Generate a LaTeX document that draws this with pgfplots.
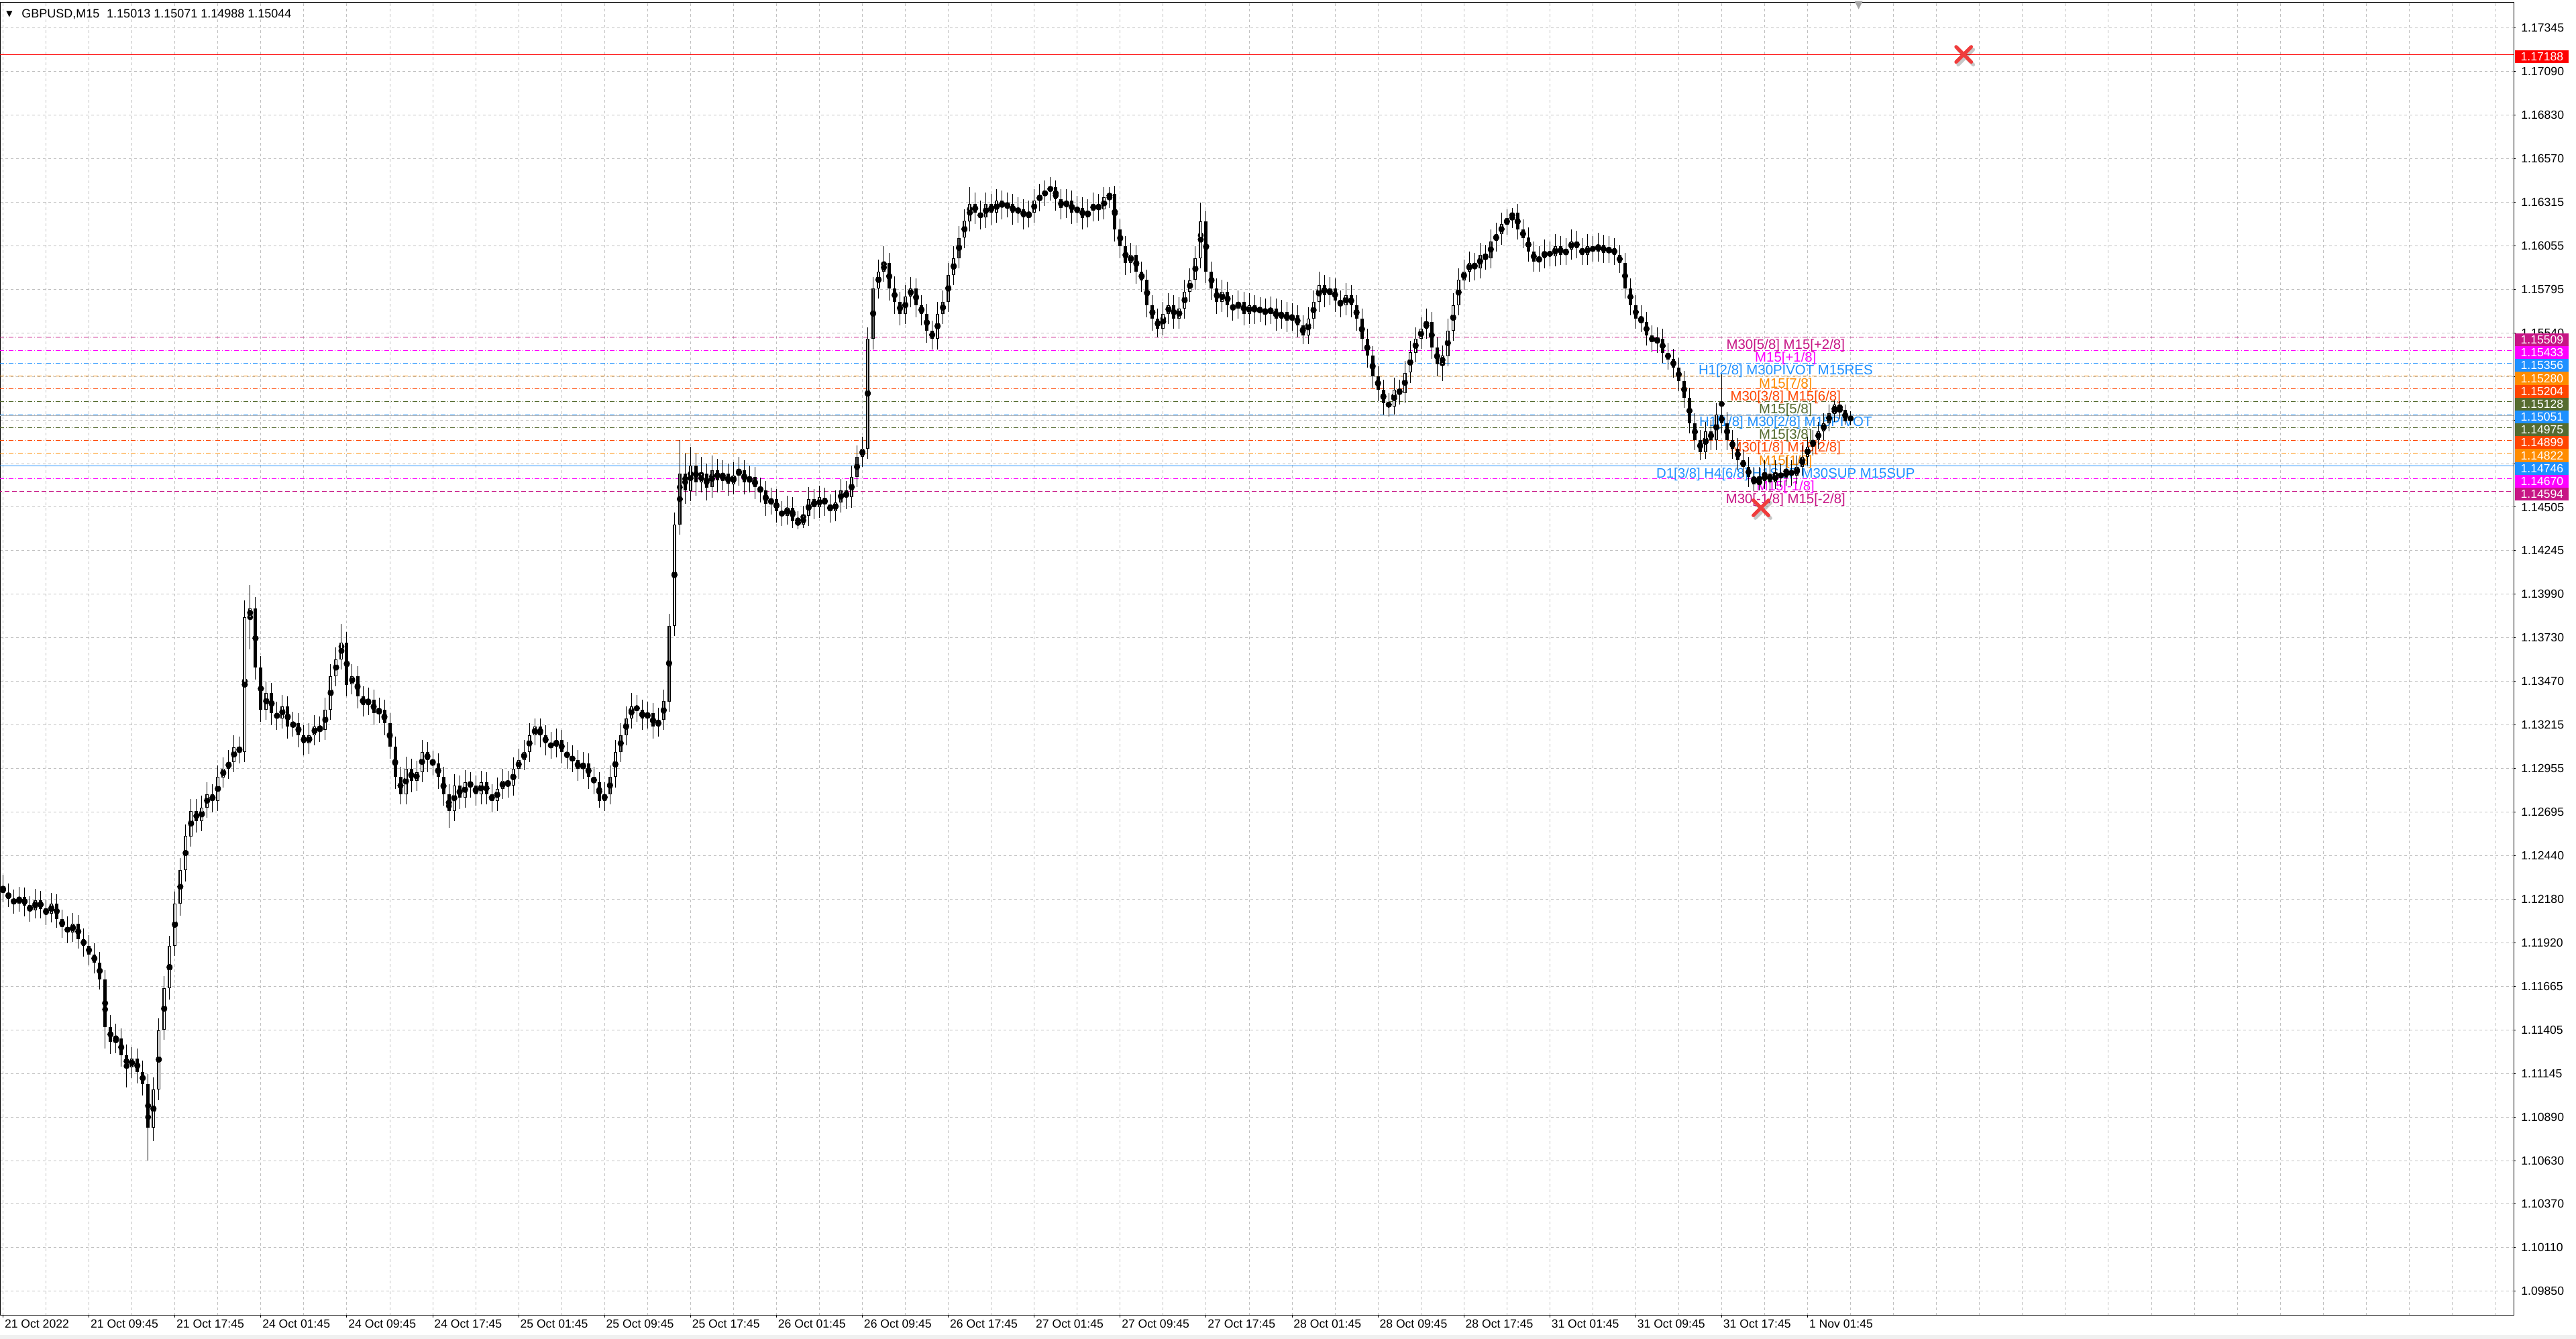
\documentclass[border=0pt]{standalone}
\usepackage{pgfplots}
\pgfplotsset{compat=1.18}
\usepackage{pgfplotstable}
\usepackage{fontspec}
\setmainfont{Liberation Sans}
\newfontfamily\dejavu{DejaVu Sans}
\definecolor{mvr}{RGB}{199,21,133}
\definecolor{mag}{RGB}{255,0,255}
\definecolor{dblue}{RGB}{30,144,255}
\definecolor{dorange}{RGB}{255,140,0}
\definecolor{ored}{RGB}{255,69,0}
\definecolor{olivegr}{RGB}{85,107,47}
\definecolor{gridgray}{RGB}{192,192,192}
\definecolor{xred}{RGB}{240,60,60}
% GBPUSD M15, prices in points (1 point = 0.00001); one row = two M15 bars
\pgfplotstableread{
o h l c
112250 112320 112160 112215
112215 112270 112130 112180
112180 112235 112090 112150
112150 112250 112100 112190
112190 112245 112075 112140
112140 112195 112045 112110
112110 112235 112060 112170
112170 112225 112065 112120
112120 112175 112025 112090
112090 112215 112040 112150
112150 112205 112005 112060
112060 112115 111945 112010
112010 112075 111915 111980
111980 112095 111925 112030
112030 112085 111885 111940
111940 112005 111835 111900
111900 111965 111785 111850
111850 111915 111735 111800
111800 111865 111640 111700
111700 111755 111290 111420
111420 111490 111260 111330
111330 111440 111265 111350
111350 111410 111185 111250
111250 111315 111060 111180
111180 111300 111115 111230
111230 111290 111085 111150
111150 111220 111010 111080
111080 111140 110628 110820
110820 111120 110740 111050
111050 111470 110985 111400
111400 111720 111340 111650
111650 111960 111580 111900
111900 112220 111840 112150
112150 112420 112080 112350
112350 112620 112280 112550
112550 112770 112490 112700
112700 112770 112570 112640
112640 112790 112580 112720
112720 112870 112660 112800
112800 112860 112690 112760
112760 112970 112700 112900
112900 113020 112840 112950
112950 113060 112890 112990
112990 113150 112930 113080
113080 113140 112980 113050
113050 113950 112990 113850
113850 114040 113660 113900
113900 113970 113480 113550
113550 113620 113230 113300
113300 113470 113240 113400
113400 113460 113210 113280
113280 113350 113180 113250
113250 113390 113190 113320
113320 113380 113130 113200
113200 113290 113140 113220
113220 113280 113080 113150
113150 113210 113030 113100
113100 113220 113040 113150
113150 113270 113090 113200
113200 113260 113110 113180
113180 113370 113120 113300
113300 113570 113240 113500
113500 113670 113440 113600
113600 113810 113540 113700
113700 113760 113380 113450
113450 113570 113390 113500
113500 113560 113310 113380
113380 113440 113260 113330
113330 113430 113270 113360
113360 113420 113210 113280
113280 113370 113220 113300
113300 113360 113150 113220
113220 113280 113010 113080
113080 113140 112830 112900
112900 112960 112740 112800
112800 113020 112740 112950
112950 113010 112810 112880
112880 113000 112820 112930
112930 113120 112870 113050
113050 113110 112930 113000
113000 113060 112910 112980
112980 113040 112830 112900
112900 112960 112730 112800
112800 112860 112600 112700
112700 112920 112640 112850
112850 112910 112710 112780
112780 112940 112720 112870
112870 112930 112780 112850
112850 112910 112730 112800
112800 112940 112740 112870
112870 112930 112740 112800
112800 112860 112690 112760
112760 112900 112700 112830
112830 112950 112770 112880
112880 112940 112780 112850
112850 113020 112790 112950
112950 113070 112890 113000
113000 113120 112940 113050
113050 113220 112990 113150
113150 113250 113090 113200
113200 113250 113080 113150
113150 113210 113030 113100
113100 113170 113010 113080
113080 113190 113020 113120
113120 113180 112980 113050
113050 113110 112950 113020
113020 113090 112930 113000
113000 113060 112880 112950
112950 113050 112890 112980
112980 113040 112830 112900
112900 112960 112800 112870
112870 112930 112720 112760
112760 112870 112700 112800
112800 112970 112740 112900
112900 113120 112840 113050
113050 113220 112990 113150
113150 113320 113090 113250
113250 113400 113190 113320
113320 113390 113230 113300
113300 113360 113180 113250
113250 113350 113190 113280
113280 113340 113130 113200
113200 113310 113140 113240
113240 113420 113180 113350
113350 113870 113290 113800
113800 114470 113740 114400
114400 114900 114340 114700
114700 114820 114520 114600
114600 114860 114540 114750
114750 114820 114570 114650
114650 114800 114590 114700
114700 114760 114540 114620
114620 114810 114560 114720
114720 114790 114590 114660
114660 114780 114600 114700
114700 114760 114570 114640
114640 114770 114580 114690
114690 114800 114630 114720
114720 114780 114580 114650
114650 114750 114590 114680
114680 114740 114550 114620
114620 114680 114530 114600
114600 114660 114450 114520
114520 114620 114460 114550
114550 114610 114410 114480
114480 114540 114390 114450
114450 114570 114400 114500
114500 114560 114380 114420
114420 114480 114370 114400
114400 114510 114380 114450
114450 114620 114390 114550
114550 114610 114430 114500
114500 114630 114440 114560
114560 114620 114450 114520
114520 114580 114410 114480
114480 114600 114420 114530
114530 114670 114470 114600
114600 114660 114490 114560
114560 114750 114500 114680
114680 114870 114620 114800
114800 114920 114740 114850
114850 115570 114790 115500
115500 115870 115440 115800
115800 115970 115740 115900
115900 116050 115840 115950
115950 116010 115730 115800
115800 115870 115650 115720
115720 115780 115580 115650
115650 115820 115590 115750
115750 115870 115690 115800
115800 115860 115630 115700
115700 115760 115580 115650
115650 115710 115480 115550
115550 115610 115440 115500
115500 115720 115440 115650
115650 115790 115590 115720
115720 115950 115660 115880
115880 116050 115820 115980
115980 116170 115920 116100
116100 116270 116040 116200
116200 116400 116140 116300
116300 116370 116180 116250
116250 116320 116150 116220
116220 116370 116160 116300
116300 116360 116180 116250
116250 116390 116190 116320
116320 116380 116210 116280
116280 116370 116220 116300
116300 116360 116180 116250
116250 116340 116190 116270
116270 116330 116150 116220
116220 116320 116160 116250
116250 116390 116190 116320
116320 116420 116260 116350
116350 116440 116290 116380
116380 116460 116320 116400
116400 116440 116260 116330
116330 116390 116210 116280
116280 116390 116220 116320
116320 116380 116180 116250
116250 116350 116190 116280
116280 116340 116150 116220
116220 116330 116160 116260
116260 116370 116200 116300
116300 116360 116200 116270
116270 116400 116210 116340
116340 116400 116280 116360
116360 116410 116080 116150
116150 116210 115980 116050
116050 116110 115880 115950
115950 116070 115890 116000
116000 116060 115830 115900
115900 115960 115780 115850
115850 115910 115630 115700
115700 115760 115550 115620
115620 115680 115510 115560
115560 115720 115520 115650
115650 115770 115590 115700
115700 115760 115560 115620
115620 115750 115560 115680
115680 115850 115620 115780
115780 115920 115720 115850
115850 116050 115790 115980
115980 116310 115920 116200
116200 116260 115830 115900
115900 115960 115730 115800
115800 115860 115650 115720
115720 115850 115660 115780
115780 115840 115630 115700
115700 115760 115610 115680
115680 115790 115620 115720
115720 115780 115580 115650
115650 115770 115590 115700
115700 115760 115590 115660
115660 115750 115600 115680
115680 115740 115580 115650
115650 115750 115590 115680
115680 115740 115550 115620
115620 115730 115560 115660
115660 115720 115540 115610
115610 115710 115550 115640
115640 115700 115510 115580
115580 115640 115470 115520
115520 115690 115470 115620
115620 115790 115560 115720
115720 115900 115660 115820
115820 115880 115690 115760
115760 115870 115700 115800
115800 115860 115660 115730
115730 115790 115630 115700
115700 115830 115640 115760
115760 115820 115630 115700
115700 115760 115550 115620
115620 115680 115430 115500
115500 115560 115330 115400
115400 115460 115210 115280
115280 115340 115130 115200
115200 115260 115050 115120
115120 115180 115040 115100
115100 115270 115050 115200
115200 115260 115110 115180
115180 115370 115120 115300
115300 115490 115240 115420
115420 115570 115360 115500
115500 115630 115440 115560
115560 115680 115500 115600
115600 115660 115380 115450
115450 115510 115280 115350
115350 115460 115250 115400
115400 115620 115340 115550
115550 115770 115490 115700
115700 115920 115640 115850
115850 115970 115790 115900
115900 116020 115840 115950
115950 116010 115850 115920
115920 116070 115860 116000
116000 116060 115910 115980
115980 116150 115920 116080
116080 116190 116020 116120
116120 116250 116060 116180
116180 116270 116120 116220
116220 116280 116160 116250
116250 116300 116090 116150
116150 116210 116040 116100
116100 116160 115960 116020
116020 116080 115900 115960
115960 116050 115900 115980
115980 116090 115920 116020
116020 116080 115930 115990
115990 116120 115930 116050
116050 116110 115940 116000
116000 116100 115940 116030
116030 116150 115970 116080
116080 116140 115980 116040
116040 116100 115940 116000
116000 116120 115940 116050
116050 116110 115960 116020
116020 116130 115960 116060
116060 116120 115950 116010
116010 116110 115950 116040
116040 116100 115940 116000
116000 116060 115890 115950
115950 116010 115740 115800
115800 115860 115640 115700
115700 115760 115560 115620
115620 115700 115540 115600
115600 115660 115460 115520
115520 115580 115420 115480
115480 115570 115420 115500
115500 115560 115360 115420
115420 115480 115320 115380
115380 115440 115270 115330
115330 115390 115190 115250
115250 115310 115090 115150
115150 115210 114940 115000
115000 115060 114840 114900
114900 114960 114781 114830
114830 115010 114790 114950
114950 115020 114840 114900
114900 115120 114840 115050
115050 115290 114940 115000
115000 115070 114840 114900
114900 114960 114790 114850
114850 114910 114720 114780
114780 114840 114680 114740
114740 114800 114620 114680
114680 114740 114598 114640
114640 114740 114600 114660
114660 114780 114610 114700
114700 114760 114600 114650
114650 114780 114610 114700
114700 114760 114620 114680
114680 114800 114630 114720
114720 114780 114630 114690
114690 114810 114640 114740
114740 114870 114690 114800
114800 114920 114750 114860
114860 114960 114810 114900
114900 115010 114850 114950
114950 115060 114900 115000
115000 115110 114950 115060
115060 115135 115010 115110
115110 115130 115030 115080
115080 115110 114990 115013
115013 115071 114988 115044
}\candles

\begin{document}
\begin{tikzpicture}
\fill[gray!12] (0pt,-17.5pt) rectangle (1920pt,-14.5pt);
\begin{axis}[
  set layers,
  scale only axis, width=1873.5pt, height=978.75pt,
  xmin=-1.15, xmax=934.9, ymin=109706, ymax=117497,
  clip mode=individual,
  axis line style={black, line width=0.5pt},
  scaled x ticks=false, scaled y ticks=false,
  xtick={0,32,...,672},
  xticklabels={21 Oct 2022,21 Oct 09:45,21 Oct 17:45,24 Oct 01:45,24 Oct 09:45,24 Oct 17:45,25 Oct 01:45,25 Oct 09:45,25 Oct 17:45,26 Oct 01:45,26 Oct 09:45,26 Oct 17:45,27 Oct 01:45,27 Oct 09:45,27 Oct 17:45,28 Oct 01:45,28 Oct 09:45,28 Oct 17:45,31 Oct 01:45,31 Oct 09:45,31 Oct 17:45,1 Nov 01:45},
  minor xtick={16,32,...,928},
  ytick={117345,117086.55,116828.10,116569.66,116311.21,116052.76,115794.31,115535.86,115277.42,115018.97,114760.52,114502.07,114243.62,113985.18,113726.73,113468.28,113209.83,112951.38,112692.94,112434.49,112176.04,111917.59,111659.14,111400.70,111142.25,110883.80,110625.35,110366.90,110108.46,109850.01},
  yticklabels={1.17345,1.17090,1.16830,1.16570,1.16315,1.16055,1.15795,1.15540,1.15280,1.15025,1.14765,1.14505,1.14245,1.13990,1.13730,1.13470,1.13215,1.12955,1.12695,1.12440,1.12180,1.11920,1.11665,1.11405,1.11145,1.10890,1.10630,1.10370,1.10110,1.09850},
  xtick pos=left, ytick pos=right, yticklabel pos=right,
  tick align=outside, major tick length=1.5pt, minor tick length=0pt,
  tick style={black, line width=0.5pt},
  grid=both,
  major grid style={gridgray, line width=0.5pt, dash pattern=on 2pt off 2pt},
  minor grid style={gridgray, line width=0.5pt, dash pattern=on 2pt off 2pt},
  ticklabel style={font=\fontsize{8.8}{10}\selectfont, inner sep=0pt},
  xticklabel style={anchor=north west, xshift=1pt, yshift=-1.5pt},
  yticklabel style={anchor=west, xshift=4pt},
]
\begin{pgfonlayer}{axis background}
\fill[white] ([yshift=-17.5pt]rel axis cs:0,0) rectangle ([xshift=46.5pt,yshift=1.75pt]rel axis cs:1,1);
\end{pgfonlayer}
% title
\node[anchor=base west, inner sep=0pt, font=\dejavu\fontsize{6}{7}\selectfont, xshift=4.5pt, yshift=-10.5pt] at (axis description cs:0,1) {▼};
\node[anchor=base west, inner sep=0pt, font=\fontsize{9}{10}\selectfont, xshift=16pt, yshift=-11.5pt] at (axis description cs:0,1) {GBPUSD,M15\hspace{0.6em}1.15013 1.15071 1.14988 1.15044};
\node[gray!70, anchor=north, inner sep=0pt, font=\dejavu\fontsize{8}{8}\selectfont, yshift=1pt] at (axis cs:691,117497) {▼};

% level lines
\addplot[red, line width=0.5pt] coordinates {(-5,117188) (940,117188)};
\addplot[mvr, line width=0.5pt, dash pattern=on 3.5pt off 1.5pt on 0.5pt off 1.5pt] coordinates {(-5,115509) (940,115509)};
\addplot[mag, line width=0.5pt, dash pattern=on 3.5pt off 1.5pt on 0.5pt off 1.5pt] coordinates {(-5,115433) (940,115433)};
\addplot[dblue, line width=0.5pt, dash pattern=on 3.5pt off 1.5pt on 0.5pt off 1.5pt] coordinates {(-5,115356) (940,115356)};
\addplot[dorange, line width=0.5pt, dash pattern=on 3.5pt off 1.5pt on 0.5pt off 1.5pt] coordinates {(-5,115280) (940,115280)};
\addplot[ored, line width=0.5pt, dash pattern=on 3.5pt off 1.5pt on 0.5pt off 1.5pt] coordinates {(-5,115204) (940,115204)};
\addplot[olivegr, line width=0.5pt, dash pattern=on 3.5pt off 1.5pt on 0.5pt off 1.5pt] coordinates {(-5,115128) (940,115128)};
\addplot[gray!55, line width=0.5pt] coordinates {(-5,115044) (940,115044)};
\addplot[dblue, line width=0.5pt, dash pattern=on 3.5pt off 1.5pt on 0.5pt off 1.5pt] coordinates {(-5,115051) (940,115051)};
\addplot[olivegr, line width=0.5pt, dash pattern=on 3.5pt off 1.5pt on 0.5pt off 1.5pt] coordinates {(-5,114975) (940,114975)};
\addplot[ored, line width=0.5pt, dash pattern=on 3.5pt off 1.5pt on 0.5pt off 1.5pt] coordinates {(-5,114899) (940,114899)};
\addplot[dorange, line width=0.5pt, dash pattern=on 3.5pt off 1.5pt on 0.5pt off 1.5pt] coordinates {(-5,114822) (940,114822)};
\addplot[dblue, line width=0.5pt] coordinates {(-5,114746) (940,114746)};
\addplot[mag, line width=0.5pt, dash pattern=on 3.5pt off 1.5pt on 0.5pt off 1.5pt] coordinates {(-5,114670) (940,114670)};
\addplot[mvr, line width=0.5pt, dash pattern=on 3.5pt off 2pt] coordinates {(-5,114594) (940,114594)};

% level texts
\tikzset{lvl/.style={anchor=base, inner sep=0pt, font=\fontsize{10.2}{12}\selectfont}}
\node[lvl, mvr] at (axis cs:663.8,115439) {M30[5/8] M15[+2/8]};
\node[lvl, mag] at (axis cs:663.8,115363) {M15[+1/8]};
\node[lvl, dblue] at (axis cs:663.8,115286) {H1[2/8] M30PIVOT M15RES};
\node[lvl, dorange] at (axis cs:663.8,115210) {M15[7/8]};
\node[lvl, ored] at (axis cs:663.8,115134) {M30[3/8] M15[6/8]};
\node[lvl, olivegr] at (axis cs:663.8,115058) {M15[5/8]};
\node[lvl, dblue] at (axis cs:663.8,114981) {H1[1/8] M30[2/8] M15PIVOT};
\node[lvl, olivegr] at (axis cs:663.8,114905) {M15[3/8]};
\node[lvl, ored] at (axis cs:663.8,114829) {M30[1/8] M15[2/8]};
\node[lvl, dorange] at (axis cs:663.8,114752) {M15[1/8]};
\node[lvl, dblue] at (axis cs:663.8,114676) {D1[3/8] H4[6/8] H1SUP M30SUP M15SUP};
\node[lvl, mag] at (axis cs:663.8,114600) {M15[-1/8]};
\node[lvl, mvr] at (axis cs:663.8,114524) {M30[-1/8] M15[-2/8]};

% candles: wicks, bodies, hollow up-bodies
\addplot[only marks, mark=none, forget plot,
  error bars/.cd, y dir=both, y explicit, error mark=none,
  error bar style={draw=black, line width=0.5pt}]
  table[x expr=2*\coordindex, y expr={(\thisrow{h}+\thisrow{l})/2}, y error expr={(\thisrow{h}-\thisrow{l})/2}] {\candles};
\addplot[only marks, mark=none, forget plot,
  error bars/.cd, y dir=both, y explicit, error mark=none,
  error bar style={draw=black, line width=2.5pt}]
  table[x expr=2*\coordindex, y expr={(\thisrow{o}+\thisrow{c})/2}, y error expr={max(abs(\thisrow{c}-\thisrow{o})/2,2)}] {\candles};
\addplot[only marks, mark=none, forget plot,
  error bars/.cd, y dir=both, y explicit, error mark=none,
  error bar style={draw=white, line width=0.75pt}]
  table[x expr=2*\coordindex, y expr={(\thisrow{o}+\thisrow{c})/2}, y error expr={max((\thisrow{c}-\thisrow{o})/2-4,0)}] {\candles};

% red crosses
\addplot[only marks, mark=x, mark size=8pt, mark options={draw=black, opacity=0.22, line width=2.6pt, line cap=round, xshift=1.5pt, yshift=-2pt}] coordinates {(730.1,117188) (654.6,114498)};
\addplot[only marks, mark=x, mark size=8pt, mark options={draw=xred, line width=2.6pt, line cap=round}] coordinates {(730.1,117188) (654.6,114498)};

% price labels on the right
\tikzset{plab/.style={anchor=west, text=white, minimum width=40pt, minimum height=9.6pt, inner sep=0pt, xshift=1pt, yshift=-1.75pt, font=\fontsize{8.8}{10}\selectfont}}
\node[plab, fill=red] at (axis cs:934.9,117188) {1.17188};
\node[plab, fill=mvr] at (axis cs:934.9,115509) {1.15509};
\node[plab, fill=mag] at (axis cs:934.9,115433) {1.15433};
\node[plab, fill=dblue] at (axis cs:934.9,115356) {1.15356};
\node[plab, fill=dorange] at (axis cs:934.9,115280) {1.15280};
\node[plab, fill=ored] at (axis cs:934.9,115204) {1.15204};
\node[plab, fill=olivegr] at (axis cs:934.9,115128) {1.15128};
\node[plab, fill=dblue] at (axis cs:934.9,115051) {1.15051};
\node[plab, fill=olivegr] at (axis cs:934.9,114975) {1.14975};
\node[plab, fill=ored] at (axis cs:934.9,114899) {1.14899};
\node[plab, fill=dorange] at (axis cs:934.9,114822) {1.14822};
\node[plab, fill=dblue] at (axis cs:934.9,114746) {1.14746};
\node[plab, fill=mag] at (axis cs:934.9,114670) {1.14670};
\node[plab, fill=mvr] at (axis cs:934.9,114594) {1.14594};
\end{axis}
\pgfresetboundingbox
\useasboundingbox (0pt,-17.5pt) rectangle (1920pt,980.5pt);
\end{tikzpicture}
\end{document}
